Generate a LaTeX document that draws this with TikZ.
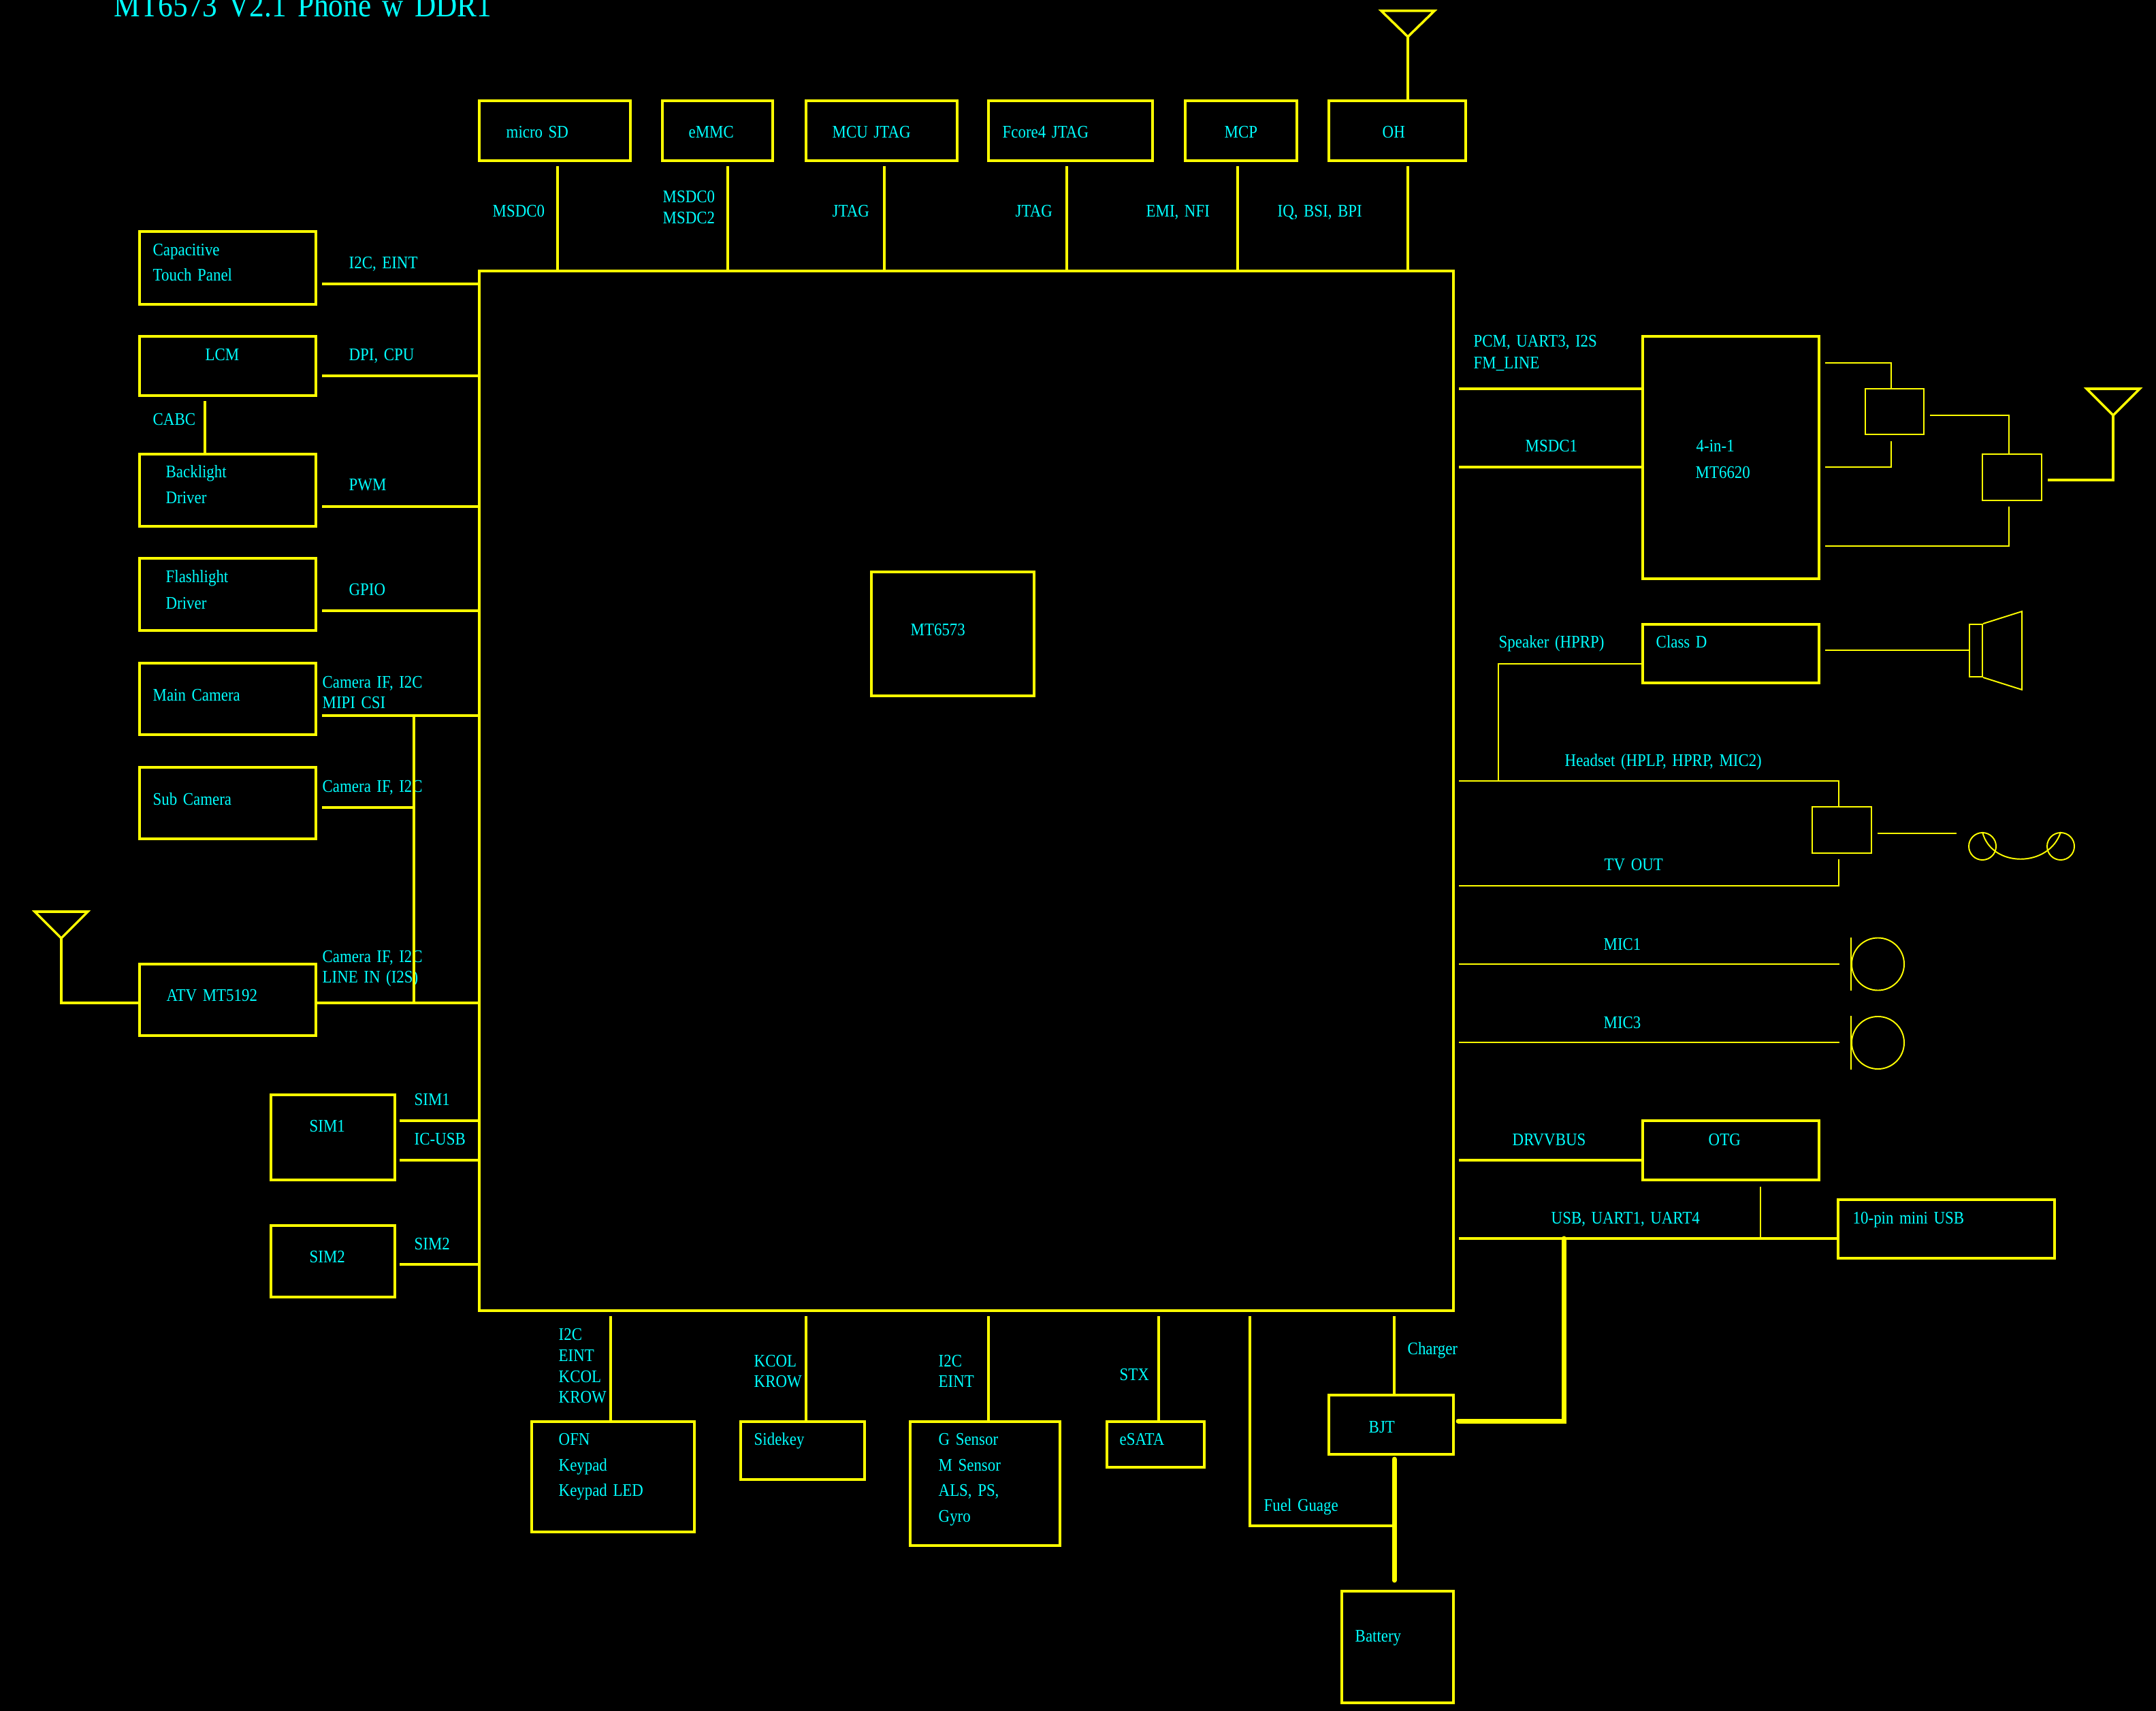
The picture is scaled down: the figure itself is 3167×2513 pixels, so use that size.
\documentclass[tikz,border=0pt]{standalone}
\usepackage{fontspec}
\setmainfont[FakeStretch=0.88,WordSpace=1.5]{Liberation Serif}
\usetikzlibrary{fit}
\definecolor{wireyellow}{RGB}{255,255,0}
\definecolor{labelcyan}{RGB}{0,255,255}

\begin{document}
\begin{tikzpicture}[
                x=0.01cm, y=-0.01cm,
                chip/.style={rectangle, draw=wireyellow, line width=1.15pt, inner sep=0pt, fit={#1}},
                part/.style={rectangle, draw=wireyellow, line width=0.55pt, inner sep=0pt, fit={#1}},
                ring/.style={circle, draw=wireyellow, line width=0.55pt, inner sep=0pt, minimum size=#1},
                wire/.style={draw=wireyellow, line width=1pt},
                fine/.style={draw=wireyellow, line width=0.55pt},
                heavy/.style={draw=wireyellow, line width=2pt, line cap=round},
                lbl/.style={text=labelcyan, anchor=base west, inner sep=0pt, font=\fontsize{7.4}{10}\selectfont}
            ]
                \useasboundingbox (0,0) rectangle (3167,2513);
                \fill[black] (0,0) rectangle (3167,2513);
                \node[lbl, font=\fontsize{14}{18}\selectfont] (title) at (167,25) {MT6573 V2.1 Phone w DDR1};

                % SoC
                \node[chip={(704,398) (2135,1925)}, line width=1pt] (soc) {};
                \node[chip={(1280,840) (1519,1022)}] (socCore) {};
                \node[lbl] (socText) at (1337,933) {MT6573};

                % top row
                \node[chip={(704,148) (926,236)}] (sd) {};
                \node[chip={(973,148) (1135,236)}] (emmc) {};
                \node[chip={(1184,148) (1406,236)}] (mcuJtag) {};
                \node[chip={(1452,148) (1693,236)}] (fcoreJtag) {};
                \node[chip={(1741,148) (1905,236)}] (mcp) {};
                \node[chip={(1952,148) (2153,236)}] (oh) {};
                \node[lbl] (sdText) at (743,203) {micro SD};
                \node[lbl] (emmcText) at (1011,203) {eMMC};
                \node[lbl] (mcuText) at (1222,203) {MCU JTAG};
                \node[lbl] (fcoreText) at (1472,203) {Fcore4 JTAG};
                \node[lbl] (mcpText) at (1798,203) {MCP};
                \node[lbl] (ohText) at (2030,203) {OH};
                \coordinate (sdPin) at (819,244);
                \coordinate (emmcPin) at (1069,244);
                \coordinate (mcuPin) at (1299,244);
                \coordinate (fcorePin) at (1567,244);
                \coordinate (mcpPin) at (1818,244);
                \coordinate (ohPin) at (2068,244);
                \draw[wire] (sdPin) -- (sdPin |- soc.north);
                \draw[wire] (emmcPin) -- (emmcPin |- soc.north);
                \draw[wire] (mcuPin) -- (mcuPin |- soc.north);
                \draw[wire] (fcorePin) -- (fcorePin |- soc.north);
                \draw[wire] (mcpPin) -- (mcpPin |- soc.north);
                \draw[wire] (ohPin) -- (ohPin |- soc.north);
                \node[lbl] (sdBus) at (723,319) {MSDC0};
                \node[lbl] (emmcBusA) at (973,298) {MSDC0};
                \node[lbl] (emmcBusB) at (973,329) {MSDC2};
                \node[lbl] (mcuBus) at (1222,319) {JTAG};
                \node[lbl] (fcoreBus) at (1491,319) {JTAG};
                \node[lbl] (mcpBus) at (1683,319) {EMI, NFI};
                \node[lbl] (ohBus) at (1876,319) {IQ, BSI, BPI};
                \coordinate (ohAnt) at (2068,54);
                \draw[wire] (ohAnt) -- (ohAnt |- oh.north);
                \draw[wire] (ohAnt) -- ++(-39,-38) -- ++(78,0) -- cycle;

                % left column
                \node[chip={(205,340) (464,447)}] (ctp) {};
                \node[chip={(205,494) (464,581)}] (lcm) {};
                \node[chip={(205,667) (464,773)}] (backlight) {};
                \node[chip={(205,820) (464,926)}] (flash) {};
                \node[chip={(205,974) (464,1079)}] (mainCam) {};
                \node[chip={(205,1127) (464,1232)}] (subCam) {};
                \node[chip={(205,1416) (464,1521)}] (atv) {};
                \node[chip={(398,1608) (580,1733)}] (simA) {};
                \node[chip={(398,1800) (580,1905)}] (simB) {};
                \node[lbl] (ctpTextA) at (224,376) {Capacitive};
                \node[lbl] (ctpTextB) at (224,413) {Touch Panel};
                \node[lbl] (lcmText) at (301,530) {LCM};
                \node[lbl] (cabc) at (224,625) {CABC};
                \node[lbl] (backlightTextA) at (243,702) {Backlight};
                \node[lbl] (backlightTextB) at (243,740) {Driver};
                \node[lbl] (flashTextA) at (243,856) {Flashlight};
                \node[lbl] (flashTextB) at (243,894) {Driver};
                \node[lbl] (mainCamText) at (224,1029) {Main Camera};
                \node[lbl] (subCamText) at (224,1182) {Sub Camera};
                \node[lbl] (atvText) at (244,1470) {ATV MT5192};
                \node[lbl] (simAText) at (454,1662) {SIM1};
                \node[lbl] (simBText) at (454,1854) {SIM2};
                \node[lbl] (ctpBus) at (512,395) {I2C, EINT};
                \node[lbl] (lcmBus) at (512,530) {DPI, CPU};
                \node[lbl] (pwmBus) at (512,721) {PWM};
                \node[lbl] (gpioBus) at (512,875) {GPIO};
                \node[lbl] (mainCamBusA) at (473,1010) {Camera IF, I2C};
                \node[lbl] (mainCamBusB) at (473,1040) {MIPI CSI};
                \node[lbl] (subCamBus) at (473,1163) {Camera IF, I2C};
                \node[lbl] (atvBusA) at (473,1413) {Camera IF, I2C};
                \node[lbl] (atvBusB) at (473,1443) {LINE IN (I2S)};
                \node[lbl] (simABusA) at (608,1623) {SIM1};
                \node[lbl] (simABusB) at (608,1681) {IC-USB};
                \node[lbl] (simBBus) at (608,1835) {SIM2};
                \coordinate (ctpPin) at (473,417);
                \coordinate (lcmPin) at (473,552);
                \coordinate (backlightPin) at (473,744);
                \coordinate (flashPin) at (473,897);
                \coordinate (mainCamPin) at (473,1051);
                \coordinate (subCamPin) at (473,1186);
                \coordinate (atvPin) at (464,1473);
                \coordinate (simAPinA) at (587,1646);
                \coordinate (simAPinB) at (587,1704);
                \coordinate (simBPin) at (587,1857);
                \coordinate (cabcPin) at (301,589);
                \coordinate (camBus) at (608,1051);
                \draw[wire] (ctpPin) -- (ctpPin -| soc.west);
                \draw[wire] (lcmPin) -- (lcmPin -| soc.west);
                \draw[wire] (backlightPin) -- (backlightPin -| soc.west);
                \draw[wire] (flashPin) -- (flashPin -| soc.west);
                \draw[wire] (mainCamPin) -- (mainCamPin -| soc.west);
                \draw[wire] (subCamPin) -- (subCamPin -| camBus);
                \draw[wire] (atvPin) -- (atvPin -| soc.west);
                \draw[wire] (camBus) -- (camBus |- atvPin);
                \draw[wire] (simAPinA) -- (simAPinA -| soc.west);
                \draw[wire] (simAPinB) -- (simAPinB -| soc.west);
                \draw[wire] (simBPin) -- (simBPin -| soc.west);
                \draw[wire] (cabcPin) -- (cabcPin |- backlight.north);
                \coordinate (atvAnt) at (90,1378);
                \draw[wire] (atvAnt) |- (atvPin -| atv.west);
                \draw[wire] (atvAnt) -- ++(-39,-39) -- ++(78,0) -- cycle;

                % 4-in-1 and antenna switches
                \node[chip={(2413,494) (2672,850)}] (combo) {};
                \node[part={(2740,571) (2826,638)}] (diplexA) {};
                \node[part={(2912,667) (2999,735)}] (diplexB) {};
                \node[lbl] (comboTextA) at (2491,664) {4-in-1};
                \node[lbl] (comboTextB) at (2490,703) {MT6620};
                \node[lbl] (comboBusA) at (2164,510) {PCM, UART3, I2S};
                \node[lbl] (comboBusB) at (2164,542) {FM\_LINE};
                \node[lbl] (comboBusC) at (2240,664) {MSDC1};
                \coordinate (comboPinA) at (2143,571);
                \coordinate (comboPinB) at (2143,686);
                \draw[wire] (comboPinA) -- (comboPinA -| combo.west);
                \draw[wire] (comboPinB) -- (comboPinB -| combo.west);
                \coordinate (rfA) at (2681,533);
                \coordinate (rfB) at (2681,686);
                \coordinate (rfC) at (2681,802);
                \coordinate (diplexAOut) at (2835,610);
                \coordinate (diplexBOut) at (3008,705);
                \coordinate (diplexAFoot) at (2778,648);
                \coordinate (diplexBFoot) at (2951,744);
                \coordinate (topAnt) at (3104,610);
                \draw[fine] (rfA) -| (diplexAFoot |- diplexA.north);
                \draw[fine] (rfB) -| (diplexAFoot);
                \draw[fine] (diplexAOut) -| (diplexBFoot |- diplexB.north);
                \draw[fine] (rfC) -| (diplexBFoot);
                \draw[wire] (diplexBOut) -| (topAnt);
                \draw[wire] (topAnt) -- ++(-39,-39) -- ++(78,0) -- cycle;

                % speaker and headset
                \node[chip={(2413,917) (2672,1003)}] (classD) {};
                \node[lbl] (classDText) at (2432,952) {Class D};
                \node[lbl] (speakerBus) at (2201,952) {Speaker (HPRP)};
                \node[lbl] (headsetBus) at (2298,1125) {Headset (HPLP, HPRP, MIC2)};
                \node[lbl] (tvBus) at (2356,1278) {TV OUT};
                \node[part={(2662,1185) (2749,1253)}] (jackSwitch) {};
                \node[part={(2893,917) (2912,994)}] (speaker) {};
                \coordinate (headsetPin) at (2143,1147);
                \coordinate (tvPin) at (2143,1301);
                \coordinate (tvFoot) at (2701,1262);
                \coordinate (speakerTap) at (2201,975);
                \coordinate (classDOut) at (2681,955);
                \coordinate (jackOut) at (2758,1224);
                \coordinate (jackEnd) at (2874,1224);
                \draw[fine] (classD.west |- speakerTap) -- (speakerTap) -- (speakerTap |- headsetPin);
                \draw[fine] (classDOut) -- (classDOut -| speaker.west);
                \draw[fine] (speaker.north east) -- (2970,898) -- (2970,1013) -- (speaker.south east);
                \draw[fine] (headsetPin) -| (tvFoot |- jackSwitch.north);
                \draw[fine] (tvPin) -| (tvFoot);
                \draw[fine] (jackOut) -- (jackEnd);
                \node[ring=0.4cm] (earA) at (2912,1243) {};
                \node[ring=0.4cm] (earB) at (3027,1243) {};
                \draw[fine] (earA.north) .. controls (2925,1275) and (3010,1275) .. (earB.north);

                % microphones
                \node[lbl] (micABus) at (2355,1395) {MIC1};
                \node[lbl] (micBBus) at (2355,1510) {MIC3};
                \node[ring=0.77cm] (micA) at (2758.5,1416) {};
                \node[ring=0.77cm] (micB) at (2758.5,1531.5) {};
                \coordinate (micAPin) at (2143,1416);
                \coordinate (micBPin) at (2143,1531);
                \coordinate (micAEnd) at (2702,1416);
                \coordinate (micBEnd) at (2702,1531);
                \draw[fine] (micAPin) -- (micAEnd);
                \draw[fine] (micBPin) -- (micBEnd);
                \draw[fine] (micA.west |- micA.north) -- (micA.west |- micA.south);
                \draw[fine] (micB.west |- micB.north) -- (micB.west |- micB.south);

                % USB and power
                \node[chip={(2413,1646) (2672,1733)}] (otg) {};
                \node[chip={(2700,1762) (3018,1848)}] (miniUsb) {};
                \node[chip={(1952,2049) (2135,2136)}] (bjt) {};
                \node[chip={(1971,2337) (2135,2501)}] (battery) {};
                \node[lbl] (otgText) at (2509,1682) {OTG};
                \node[lbl] (otgBus) at (2221,1682) {DRVVBUS};
                \node[lbl] (usbBus) at (2278,1797) {USB, UART1, UART4};
                \node[lbl] (miniUsbText) at (2721,1797) {10-pin mini USB};
                \node[lbl] (bjtText) at (2010,2104) {BJT};
                \node[lbl] (batteryText) at (1990,2411) {Battery};
                \node[lbl] (chargerBus) at (2067,1989) {Charger};
                \node[lbl] (fuelBus) at (1856,2219) {Fuel Guage};
                \coordinate (otgPin) at (2143,1704);
                \coordinate (usbPin) at (2143,1819);
                \coordinate (usbTap) at (2586,1743);
                \coordinate (vbusTap) at (2297,1819);
                \coordinate (bjtDrain) at (2142,2087);
                \coordinate (chargerPin) at (2048,1933);
                \coordinate (fuelPin) at (1836,1933);
                \coordinate (batteryTop) at (2048,2321);
                \coordinate (bjtFoot) at (2048,2143);
                \coordinate (fuelTap) at (2048,2241);
                \draw[wire] (otgPin) -- (otgPin -| otg.west);
                \draw[wire] (usbPin) -- (usbPin -| miniUsb.west);
                \draw[fine] (usbTap) -- (usbTap |- usbPin);
                \draw[heavy] (vbusTap) |- (bjtDrain);
                \draw[wire] (chargerPin) -- (chargerPin |- bjt.north);
                \draw[wire] (fuelPin) |- (fuelTap);
                \draw[heavy] (bjtFoot) -- (batteryTop);

                % bottom row
                \node[chip={(781,2088) (1020,2250)}] (ofn) {};
                \node[chip={(1088,2088) (1270,2173)}] (sidekey) {};
                \node[chip={(1337,2088) (1557,2270)}] (sensor) {};
                \node[chip={(1626,2088) (1769,2155)}] (esata) {};
                \coordinate (ofnPin) at (897,1933);
                \coordinate (sidekeyPin) at (1184,1933);
                \coordinate (sensorPin) at (1452,1933);
                \coordinate (esataPin) at (1702,1933);
                \draw[wire] (ofnPin) -- (ofnPin |- ofn.north);
                \draw[wire] (sidekeyPin) -- (sidekeyPin |- sidekey.north);
                \draw[wire] (sensorPin) -- (sensorPin |- sensor.north);
                \draw[wire] (esataPin) -- (esataPin |- esata.north);
                \node[lbl] (ofnBusA) at (820,1968) {I2C};
                \node[lbl] (ofnBusB) at (820,1999) {EINT};
                \node[lbl] (ofnBusC) at (820,2030) {KCOL};
                \node[lbl] (ofnBusD) at (820,2060) {KROW};
                \node[lbl] (sidekeyBusA) at (1107,2007) {KCOL};
                \node[lbl] (sidekeyBusB) at (1107,2037) {KROW};
                \node[lbl] (sensorBusA) at (1378,2007) {I2C};
                \node[lbl] (sensorBusB) at (1378,2037) {EINT};
                \node[lbl] (esataBus) at (1644,2027) {STX};
                \node[lbl] (ofnTextA) at (820,2122) {OFN};
                \node[lbl] (ofnTextB) at (820,2160) {Keypad};
                \node[lbl] (ofnTextC) at (820,2197) {Keypad LED};
                \node[lbl] (sidekeyText) at (1107,2122) {Sidekey};
                \node[lbl] (sensorTextA) at (1378,2122) {G Sensor};
                \node[lbl] (sensorTextB) at (1378,2160) {M Sensor};
                \node[lbl] (sensorTextC) at (1378,2197) {ALS, PS,};
                \node[lbl] (sensorTextD) at (1378,2235) {Gyro};
                \node[lbl] (esataText) at (1644,2122) {eSATA};
            \end{tikzpicture}
\end{document}
